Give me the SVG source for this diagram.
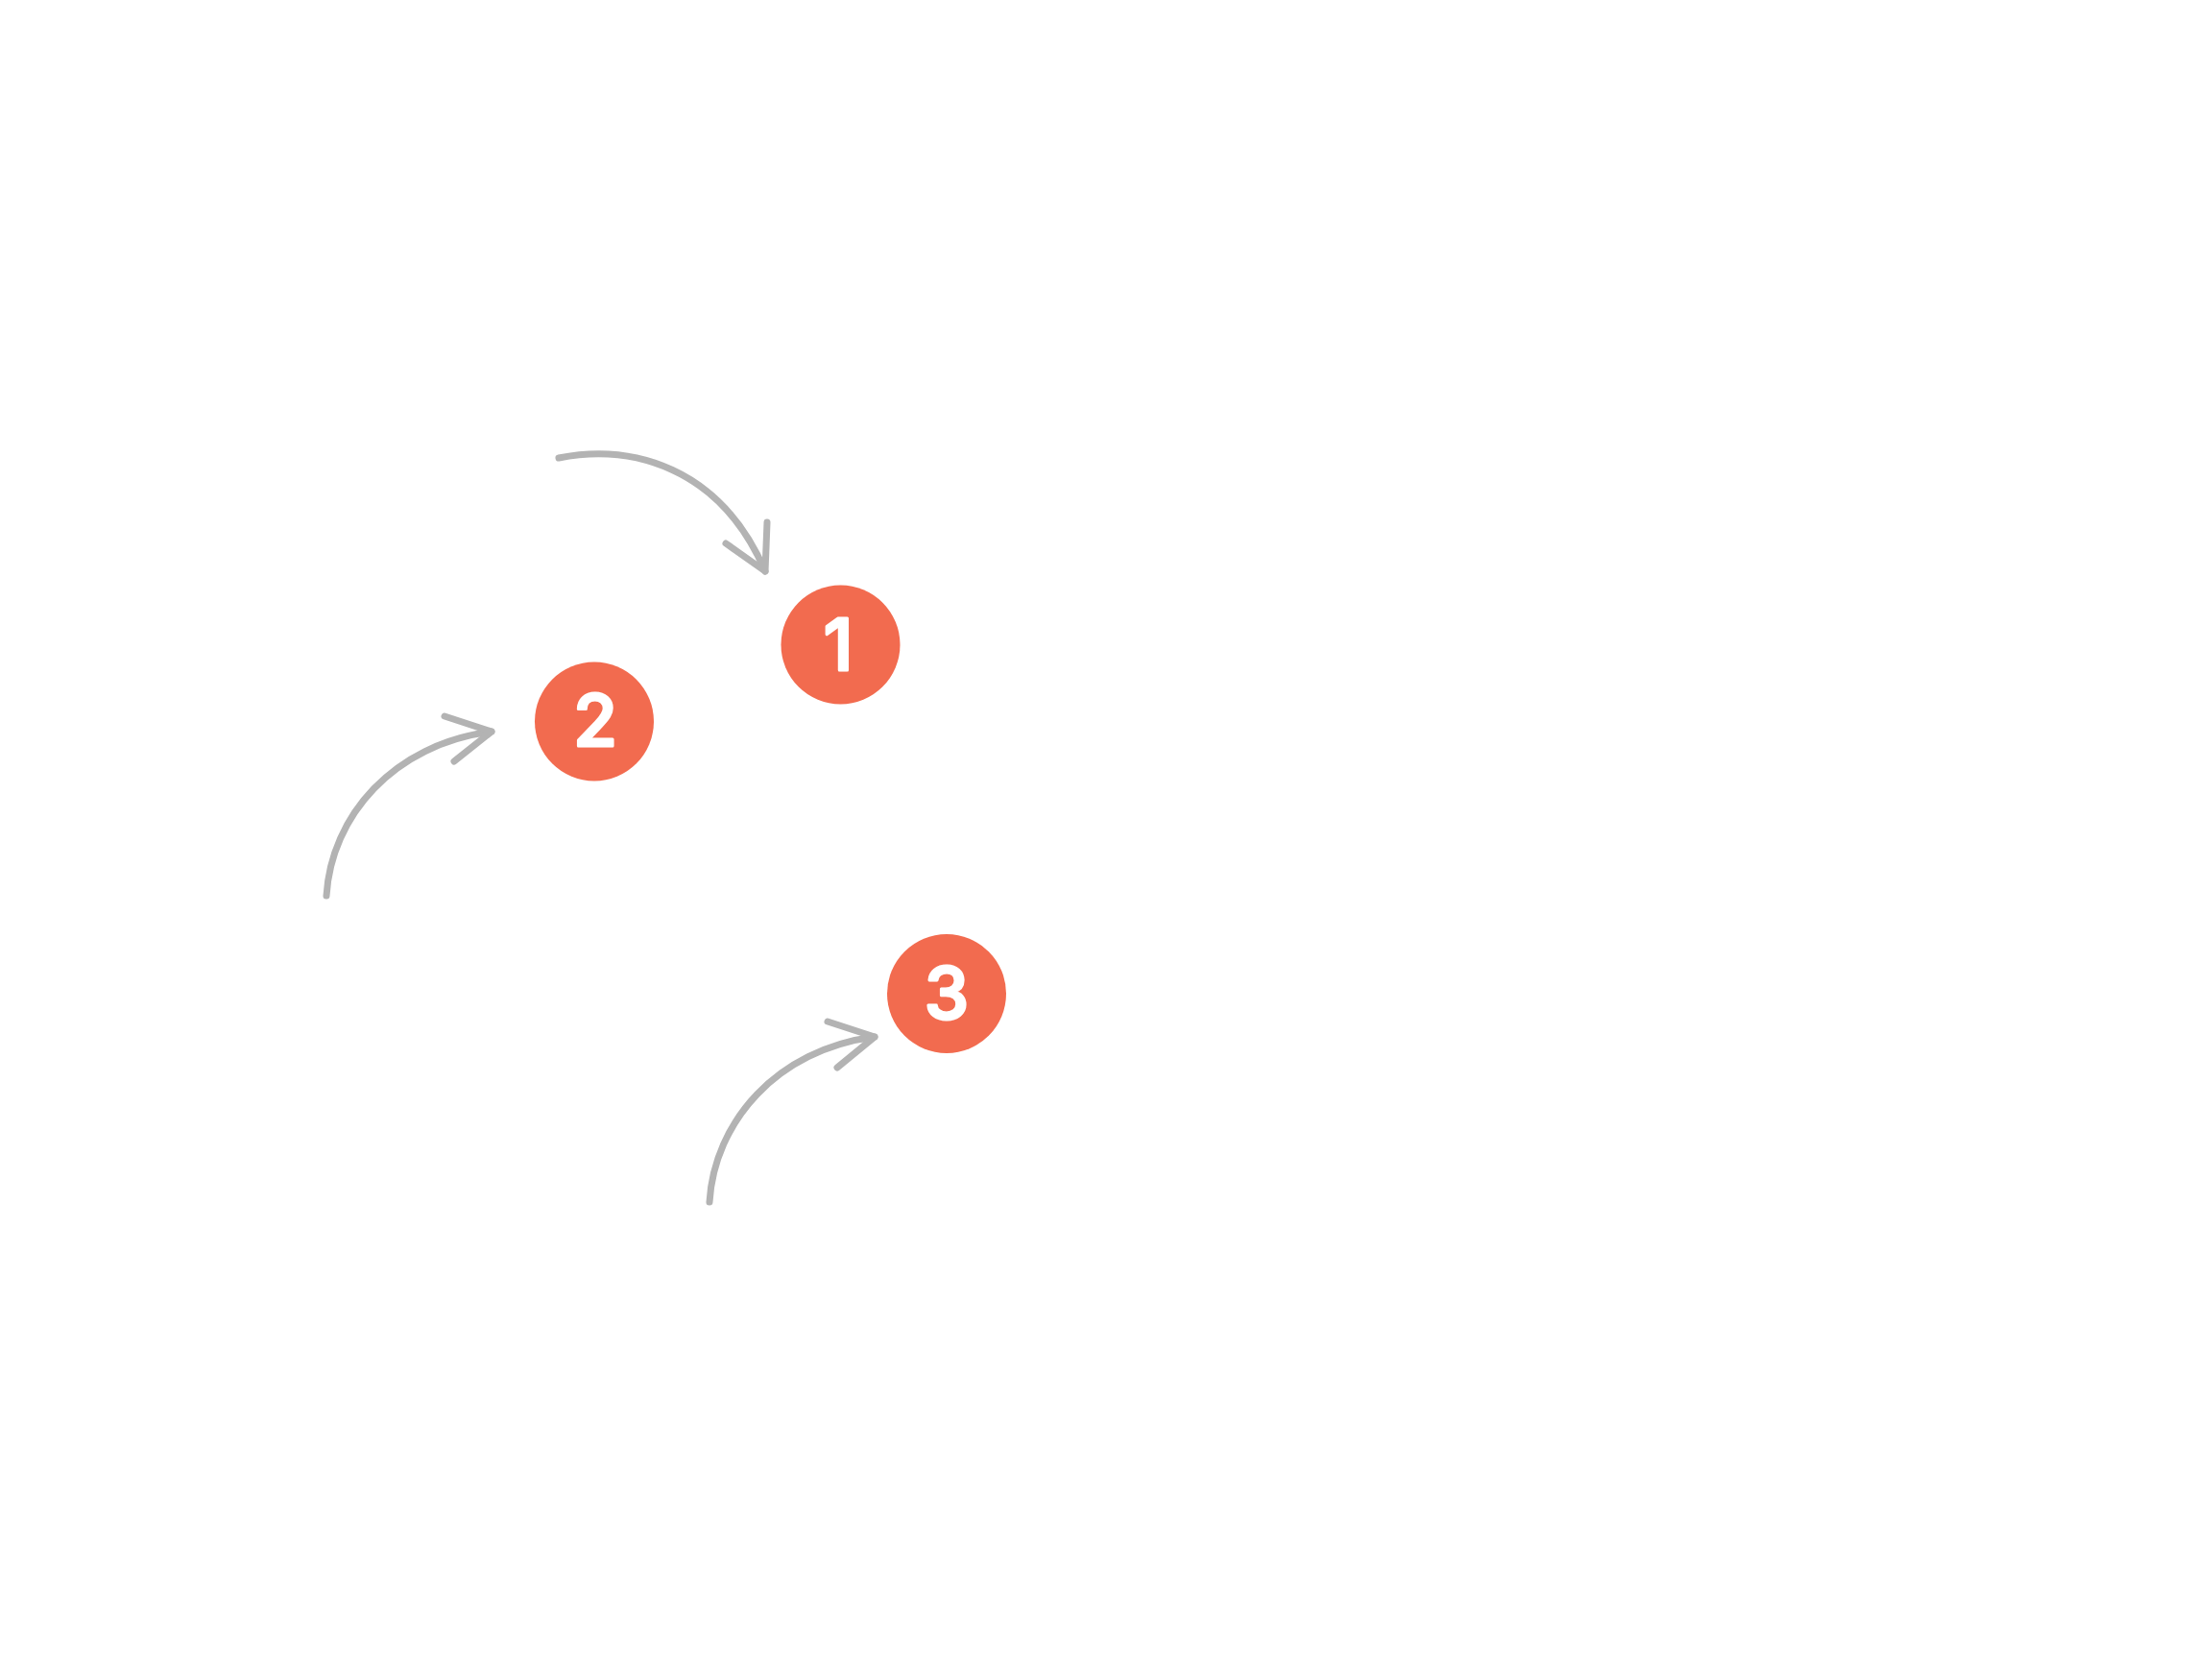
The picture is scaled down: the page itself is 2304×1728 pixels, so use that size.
<svg xmlns="http://www.w3.org/2000/svg" width="2304" height="1728" viewBox="0 0 2304 1728">
<style>
.conn{fill:none;stroke:#b3b3b3;stroke-width:7;stroke-linecap:round;stroke-linejoin:round}
.badge{fill:#f26b4f}
.num{fill:#ffffff;stroke:#ffffff;stroke-width:3;stroke-linejoin:round;font-family:Inter,"Open Sans","Liberation Sans",sans-serif;font-weight:500;font-size:74px;text-anchor:middle}
</style>
<rect width="2304" height="1728" fill="#ffffff"/>
<g id="connectors">
<g id="arrow1">
<path class="conn" d="M582,477 C658,462 750,486 797,595"/>
<path class="conn" d="M756,566 L797,595 L799,544"/>
</g>
<g id="arrow2">
<path class="conn" d="M340,933 C345,850 410,775 512,762"/>
<path class="conn" d="M463,746 L512,762 L473,793"/>
</g>
<g id="arrow3">
<path class="conn" d="M739,1252 C744,1169 809,1093 911,1080"/>
<path class="conn" d="M862,1064 L911,1080 L872,1112"/>
</g>
</g>
<g id="node1">
<circle class="badge" cx="875.5" cy="671.5" r="62"/>
<text class="num" x="873" y="698">1</text>
</g>
<g id="node2">
<circle class="badge" cx="619" cy="751.5" r="62"/>
<text class="num" x="620" y="777">2</text>
</g>
<g id="node3">
<circle class="badge" cx="986" cy="1035" r="62"/>
<text class="num" x="986" y="1061">3</text>
</g>
</svg>
